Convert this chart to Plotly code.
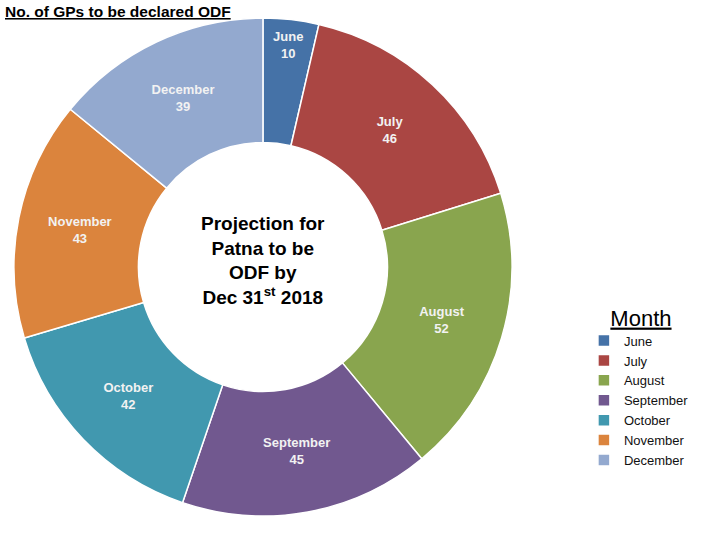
import plotly.graph_objects as go

months = ["June", "July", "August", "September", "October", "November", "December"]
values = [10, 46, 52, 45, 42, 43, 39]
colors = ["#4572A7", "#AA4643", "#89A54E", "#71588F", "#4198AF", "#DB843D", "#93A9CF"]

fig = go.Figure(go.Pie(
    labels=months, values=values, hole=0.5, sort=False, direction="clockwise",
    rotation=0,
    marker=dict(colors=colors, line=dict(color="white", width=1.5)),
    texttemplate="<b>%{label}<br>%{value}</b>", textposition="inside",
    insidetextorientation="horizontal",
    textfont=dict(family="Liberation Sans, Arial", size=13, color="#F2F2F2"),
    domain=dict(x=[0.0194, 0.711], y=[0.044, 0.967]),
    hoverinfo="label+value",
))

fig.update_layout(
    width=720, height=540, margin=dict(l=0, r=0, t=0, b=0),
    paper_bgcolor="white", plot_bgcolor="white",
    showlegend=True,
    legend=dict(
        x=0.811, y=0.45, xanchor="left", yanchor="top",
        title=dict(text="&nbsp;&nbsp;&nbsp;&nbsp;<u>Month</u>", font=dict(family="Liberation Sans, Arial", size=22, color="black")),
        font=dict(family="Liberation Sans, Arial", size=13, color="#111"),
        itemwidth=30, tracegroupgap=0,
    ),
    annotations=[
        dict(text="<b><u>No. of GPs to be declared ODF</u></b>", x=0.004, y=0.998, xref="paper", yref="paper",
             xanchor="left", yanchor="top", showarrow=False,
             font=dict(family="Liberation Sans, Arial", size=15.5, color="black")),
        dict(text="<b>Projection for<br>Patna to be<br>ODF by<br>Dec 31<sup>st</sup> 2018</b>",
             x=0.3653, y=0.517, xref="paper", yref="paper", xanchor="center", yanchor="middle",
             showarrow=False, font=dict(family="Liberation Sans, Arial", size=19, color="black")),
    ],
)

fig.write_html("out.html")
